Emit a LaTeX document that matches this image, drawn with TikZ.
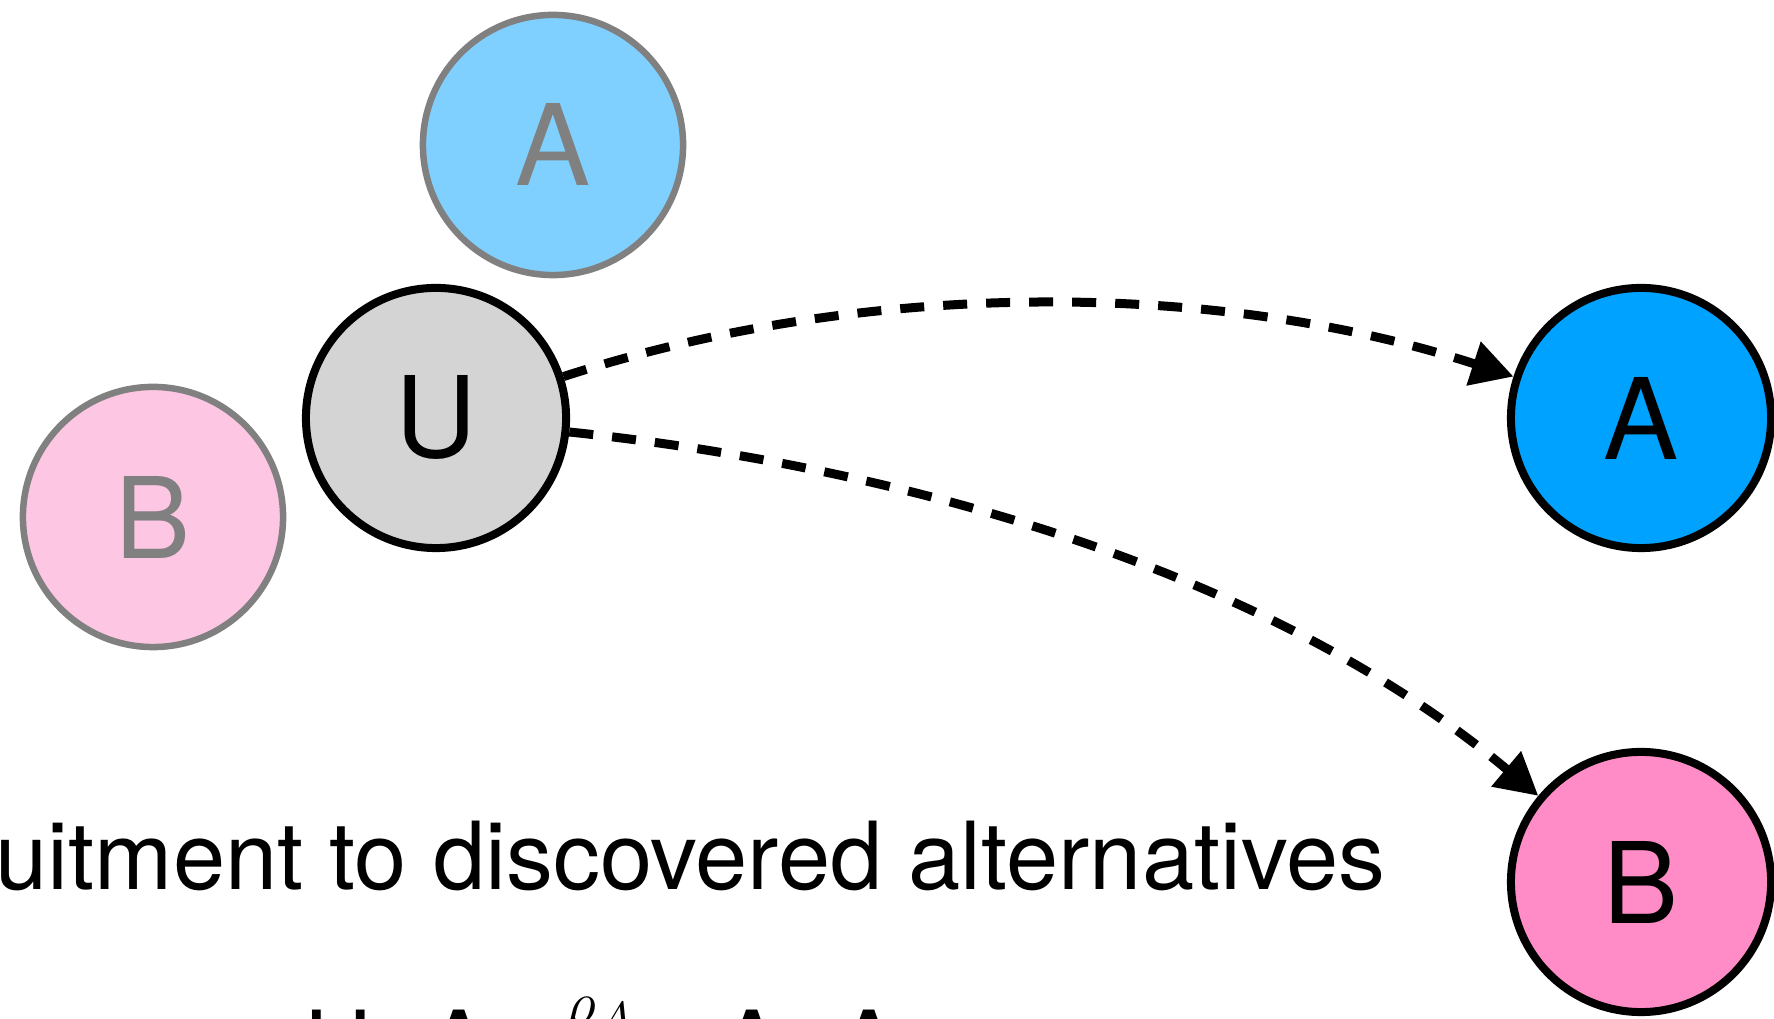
\documentclass[tikz,border=0pt]{standalone}
\usepackage{amsmath}
\usepackage{fontspec}
\setmainfont{TeX Gyre Heros}
\usetikzlibrary{arrows.meta}
\definecolor{lightA}{HTML}{80D0FF}
\definecolor{darkA}{HTML}{00A2FF}
\definecolor{lightB}{HTML}{FDC6E2}
\definecolor{darkB}{HTML}{FF8CC6}
\definecolor{ugray}{HTML}{D4D4D4}
\definecolor{ghost}{HTML}{808080}
\begin{document}
\begin{tikzpicture}[x=0.01cm,y=0.01cm,
  agent/.style={circle, minimum size=2.6cm, inner sep=0pt, font=\fontsize{32}{38}\selectfont},
  ghostnode/.style={agent, draw=ghost, text=ghost, line width=0.065cm},
  solidnode/.style={agent, draw=black, text=black, line width=0.08cm},
  recruit/.style={line width=0.09cm, dash pattern=on 0.24cm off 0.19cm, -{Triangle[length=0.42cm,width=0.44cm]}},
  caption/.style={inner sep=0pt, font=\fontsize{26.7}{32}\selectfont}
]
\useasboundingbox (0,0) rectangle (1774,1019);
\clip (0,0) rectangle (1774,1019);
\node[ghostnode, fill=lightA] (ghostA) at (553,874) {A};
\node[ghostnode, fill=lightB] (ghostB) at (153,502) {B};
\node[solidnode, fill=ugray] (U) at (436,601) {U};
\node[solidnode, fill=darkA] (A) at (1641,601) {A};
\node[solidnode, fill=darkB] (B) at (1641,137) {B};
\draw[recruit] (U) to[out=18,in=162,looseness=0.85] (A);
\draw[recruit] (U) to[out=-6,in=140,looseness=0.85] (B);
\node[caption, anchor=base east] (title) at (1386,129) {Recruitment to discovered alternatives};
\node[caption, anchor=base west] (rule) at (304,-60) {U+A\makebox[2.3cm]{$\xrightarrow{\rho_A}$}A+A};
\end{tikzpicture}
\end{document}
